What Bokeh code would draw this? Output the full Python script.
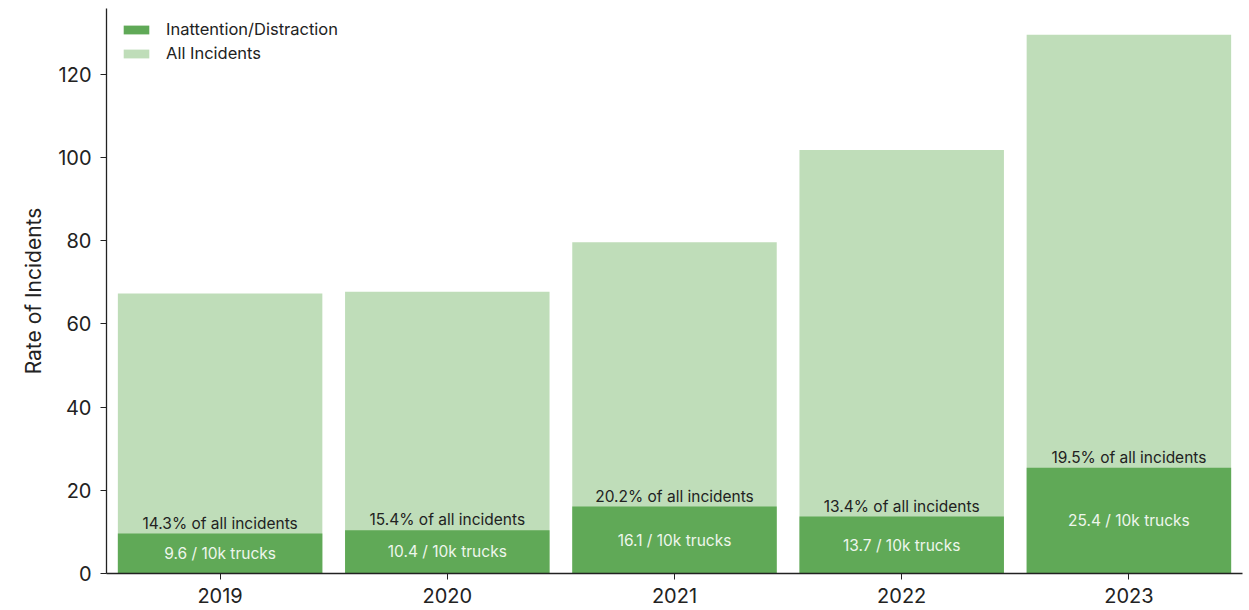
from bokeh.plotting import figure
from bokeh.models import ColumnDataSource, Range1d, FactorRange, Legend, LegendItem
from bokeh.embed import file_html
from bokeh.resources import INLINE
from bokeh.core.properties import value

years = ["2019", "2020", "2021", "2022", "2023"]
all_incidents = [67.3, 67.7, 79.6, 101.8, 129.5]
inattention = [9.6, 10.4, 16.1, 13.7, 25.4]
pct_labels = ["14.3% of all incidents", "15.4% of all incidents", "20.2% of all incidents",
              "13.4% of all incidents", "19.5% of all incidents"]
rate_labels = ["9.6 / 10k trucks", "10.4 / 10k trucks", "16.1 / 10k trucks",
               "13.7 / 10k trucks", "25.4 / 10k trucks"]
y_ticks = [0, 20, 40, 60, 80, 100, 120]

FONT = "Inter"
DARK = "#60a957"
LIGHT = "#bfddb9"

src = ColumnDataSource(dict(
    year=years, total=all_incidents, inat=inattention,
    half=[v / 2 for v in inattention], pct=pct_labels, rate=rate_labels,
))

p = figure(x_range=FactorRange(*years), y_range=Range1d(0, 135.8),
           frame_width=1136, frame_height=565, output_backend="svg",
           toolbar_location=None, min_border_left=106, min_border_top=8,
           min_border_bottom=37, min_border_right=7)
p.x_range.range_padding = 0

r_all = p.vbar(x="year", top="total", width=0.9, source=src, fill_color=LIGHT, line_color=None)
r_in = p.vbar(x="year", top="inat", width=0.9, source=src, fill_color=DARK, line_color=None)

p.text(x="year", y="inat", text="pct", source=src, text_align="center", text_baseline="bottom",
       y_offset=-1, text_font=value(FONT), text_font_size="15.5px", text_color="#222222")
p.text(x="year", y="half", text="rate", source=src, text_align="center", text_baseline="middle",
       text_font=value(FONT), text_font_size="15.5px", text_color="#eef6ec")

p.outline_line_color = None
p.xgrid.visible = False
p.ygrid.visible = False
p.background_fill_color = "white"
p.border_fill_color = "white"

p.yaxis.ticker = y_ticks
p.yaxis.axis_label = "Rate of Incidents"
for ax in (p.xaxis[0], p.yaxis[0]):
    ax.axis_line_color = "#222222"
    ax.axis_line_width = 1.3
    ax.major_tick_line_color = "#222222"
    ax.major_tick_out = 6
    ax.major_tick_in = 0
    ax.minor_tick_line_color = None
    ax.major_label_text_font = FONT
    ax.major_label_text_font_size = "20px"
    ax.major_label_text_color = "#222222"
    ax.axis_label_text_font = FONT
    ax.axis_label_text_font_size = "21px"
    ax.axis_label_text_font_style = "normal"
    ax.axis_label_text_color = "#222222"
p.xaxis.major_label_standoff = 8
p.yaxis.major_label_standoff = 9
p.yaxis.axis_label_standoff = 9

legend = Legend(items=[LegendItem(label="Inattention/Distraction", renderers=[r_in]),
                       LegendItem(label="All Incidents", renderers=[r_all])],
                location=(14, 510))
legend.border_line_color = None
legend.background_fill_alpha = 0
legend.label_text_font = FONT
legend.label_text_font_size = "16.5px"
legend.label_text_color = "#222222"
legend.glyph_width = 32
legend.glyph_height = 11
legend.label_standoff = 14
legend.spacing = 4
legend.padding = 0
legend.margin = 0
legend.label_height = 20
p.add_layout(legend)

open("out.html", "w").write(file_html(p, INLINE))
